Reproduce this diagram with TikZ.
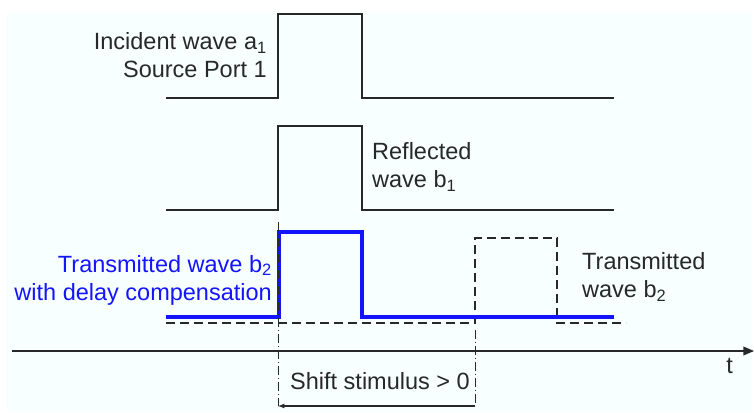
\documentclass[tikz,border=0pt]{standalone}
\usepackage{fontspec}
\setmainfont{Liberation Sans}
\usetikzlibrary{arrows, positioning}
\definecolor{paper}{RGB}{247,255,255}
\definecolor{waveblue}{RGB}{20,20,255}
\definecolor{ink}{RGB}{40,40,40}
\tikzstyle{wave} = [line width=1.4pt, draw=ink]
\tikzstyle{bluewave} = [line width=3.6pt, draw=waveblue]
\tikzstyle{shifted} = [line width=1.4pt, draw=ink, dash pattern=on 9pt off 5pt]
\tikzstyle{marker} = [line width=1pt, draw=ink, dash pattern=on 9pt off 3pt on 1pt off 3pt]
\tikzstyle{wavetext} = [font=\fontsize{23.5}{28}\selectfont, inner sep=0pt, text=ink]
\tikzstyle{arrow} = [line width=1.2pt, draw=ink, ->, >=latex]

\begin{document}
\begin{tikzpicture}[x=1pt, y=-1pt]

\useasboundingbox (0,0) rectangle (754,412);
\fill[paper] (7,12) rectangle (752,412);

% incident wave
\draw [wave] (166,98) -- (278,98) -- (278,14) -- (362,14) -- (362,98) -- (614,98);
% reflected wave
\draw [wave] (166,210) -- (278,210) -- (278,126) -- (362,126) -- (362,210) -- (614,210);
% shifted transmitted wave
\draw [shifted] (166,323) -- (475,323) -- (475,238) -- (557,238) -- (557,323) -- (626,323);
% compensated transmitted wave
\draw [bluewave] (166,317) -- (279,317) -- (279,232) -- (362,232) -- (362,317) -- (614,317);

% time axis
\coordinate (t0) at (12,351);
\coordinate (t1) at (754,351);
\draw [arrow, line width=1.5pt, >=triangle 45] (t0) -- (t1);
\node (t) [wavetext, anchor=north east] at (733,358) {t};

% shift markers
\coordinate (shiftA) at (278,222);
\coordinate (shiftB) at (475,330);
\coordinate (shiftAend) at (278,406);
\coordinate (shiftBend) at (475,406);
\draw [marker] (shiftA) -- (shiftAend);
\draw [marker] (shiftB) -- (shiftBend);
\draw [arrow] (shiftBend) -- (shiftAend);
\node (shift) [wavetext] at (380,381) {Shift stimulus > 0};

% labels
\node (incident) [wavetext, anchor=east, align=right] at (267,55) {Incident wave a\textsubscript{1}\\Source Port 1};
\node (reflected) [wavetext, anchor=west, align=left] at (372,167) {Reflected\\wave b\textsubscript{1}};
\node (compensated) [wavetext, text=waveblue, anchor=east, align=right] at (272,280) {Transmitted wave b\textsubscript{2}\\with delay compensation};
\node (transmitted) [wavetext, anchor=west, align=left] at (582,277) {Transmitted\\wave b\textsubscript{2}};

\end{tikzpicture}
\end{document}
